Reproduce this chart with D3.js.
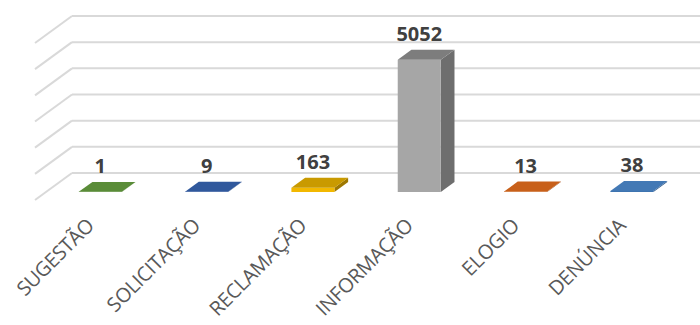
<!DOCTYPE html>
<html>
<head>
<meta charset="utf-8">
<script src="https://cdn.jsdelivr.net/npm/d3@7"></script>
<style>
  html, body { margin: 0; padding: 0; background: #fff; }
  svg { display: block; }
</style>
</head>
<body>
<svg id="chart" width="700" height="325"></svg>
<script>
// Manifestações por tipo
const categories = ["SUGESTÃO", "SOLICITAÇÃO", "RECLAMAÇÃO", "INFORMAÇÃO", "ELOGIO", "DENÚNCIA"];
const values = [1, 9, 163, 5052, 13, 38];
const yTicks = [0, 1000, 2000, 3000, 4000, 5000, 6000];
// face colours per bar: front, top, side
const frontColors = ["#548235", "#2F5597", "#F2B800", "#A6A6A6", "#C55A11", "#3E74B0"];
const topColors   = ["#5A8C38", "#30589C", "#C99A00", "#7D7D7D", "#C8601A", "#4379B5"];
const sideColors  = ["#3F6328", "#24437A", "#9E7800", "#6E6E6E", "#96440C", "#2F5A8A"];

const svg = d3.select("#chart");

// oblique 3D projection: back-wall coordinates shifted by depth fraction f (0 = back wall, 1 = front)
const depth = { dx: -37, dy: 27 };
const P = (x, y, f) => [x + depth.dx * f, y + depth.dy * f];

const y = d3.scaleLinear().domain([0, 6000]).range([173, 16]);
const x = d3.scaleBand().domain(categories).range([73, 711]).paddingInner(0).paddingOuter(0);

const wallLeft = 72;
const barFront = 0.70, barBack = 0.33;
const barW = x.step() * 0.405;

// gridlines: back wall and left side wall
const grid = svg.append("g").attr("stroke", "#D9D9D9").attr("stroke-width", 2).attr("fill", "none");
yTicks.forEach(t => {
  grid.append("line").attr("x1", wallLeft).attr("x2", 700).attr("y1", y(t)).attr("y2", y(t));
  const a = P(wallLeft, y(t), 0), b = P(wallLeft, y(t), 1);
  grid.append("line").attr("x1", a[0]).attr("y1", a[1]).attr("x2", b[0]).attr("y2", b[1]);
});

// bars
const bars = svg.append("g");
categories.forEach((c, i) => {
  const cx = x(c) + x.bandwidth() / 2;
  const x0 = cx - barW / 2, x1 = cx + barW / 2;
  const y0 = y(0), y1 = y(values[i]);
  const fbl = P(x0, y0, barFront), fbr = P(x1, y0, barFront);
  const ftl = P(x0, y1, barFront), ftr = P(x1, y1, barFront);
  const btl = P(x0, y1, barBack), btr = P(x1, y1, barBack);
  const bbr = P(x1, y0, barBack);
  const poly = pts => pts.map(p => p.join(",")).join(" ");
  bars.append("polygon").attr("points", poly([fbr, bbr, btr, ftr])).attr("fill", sideColors[i]);
  bars.append("polygon").attr("points", poly([fbl, fbr, ftr, ftl])).attr("fill", frontColors[i]);
  bars.append("polygon").attr("points", poly([ftl, ftr, btr, btl])).attr("fill", topColors[i]);

  // value label above the bar
  const lab = P(cx, y1, barBack);
  svg.append("text")
    .attr("x", P(cx, y1, barFront)[0])
    .attr("y", lab[1] - 9)
    .attr("text-anchor", "middle")
    .attr("font-family", "'Open Sans', sans-serif")
    .attr("font-weight", "bold")
    .attr("font-size", 20)
    .attr("fill", "#404040")
    .text(values[i]);
});

// category labels, rotated
const axisG = svg.append("g");
categories.forEach(c => {
  const cx = P(x(c) + x.bandwidth() / 2, y(0), barFront)[0];
  axisG.append("text")
    .attr("transform", `translate(${cx - 10},222) rotate(-45)`)
    .attr("dy", "0.35em")
    .attr("text-anchor", "end")
    .attr("font-family", "'Open Sans', sans-serif")
    .attr("font-size", 20)
    .attr("letter-spacing", "-0.3px")
    .attr("fill", "#595959")
    .text(c);
});
</script>
</body>
</html>
